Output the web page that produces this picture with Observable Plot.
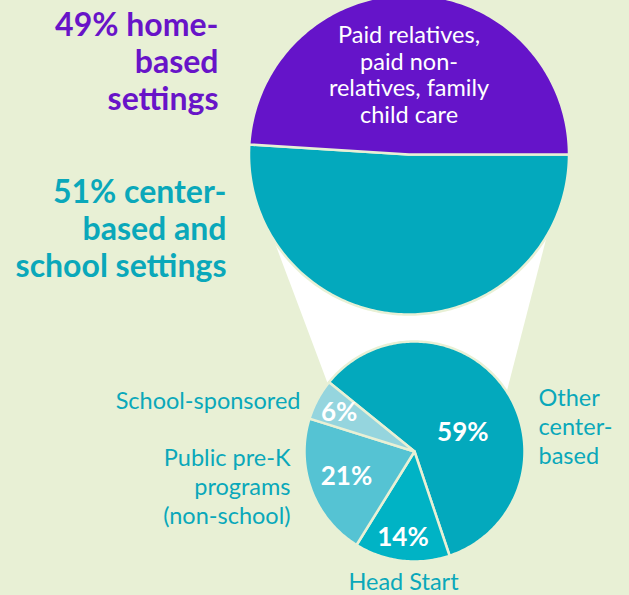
<!DOCTYPE html>
<html>
<head>
<meta charset="utf-8">
<script src="https://cdn.jsdelivr.net/npm/d3@7"></script>
<script src="https://cdn.jsdelivr.net/npm/@observablehq/plot@0.6"></script>
<style>
  html, body { margin: 0; padding: 0; background: #e8f0d5; }
  #chart svg { display: block; }
</style>
</head>
<body>
<div id="chart"></div>
<script>
// ---------- DATA ----------
const bigCategories = ["Center-based and school settings", "Home-based settings"];
const bigValues = [51, 49];
const bigColors = ["#03a9bd", "#6514c9"];
const bigHeadings = ["% center-\nbased and\nschool settings", "% home-\nbased\nsettings"];
const homeLabel = "Paid relatives,\npaid non-\nrelatives, family\nchild care";

const smallCategories = ["Other\ncenter-\nbased", "Head Start", "Public pre-K\nprograms\n(non-school)", "School-sponsored"];
const smallValues = [59, 14, 21, 6];
const smallColors = ["#03a9bd", "#00b3c5", "#55c3d3", "#95d5de"];

// ---------- LAYOUT ----------
const W = 629, H = 595;
const BG = "#e8f0d5";
const TEAL_TEXT = "#0aa8ba", PURPLE_TEXT = "#6814c8";
const big = {cx: 408.5, cy: 154, r: 160, start: Math.PI / 2};
const small = {cx: 414, cy: 451, r: 110, start: -51 * Math.PI / 180};
const pctRadius = [0.47, 0.79, 0.66, 0.77];
const pctAngleShift = [14, 1, 0, -1];
const connector = {bigLeft: 237.6, bigRight: 120.4, smallLeft: 308, smallRight: 57};
const outerLabelPos = [
  {x: 538, y: 425, anchor: "start"},
  {x: 403, y: 580, anchor: "middle"},
  {x: 290, y: 485.5, anchor: "end"},
  {x: 300, y: 399.5, anchor: "end"}
];

const rad = d => d * Math.PI / 180;
function pt(c, r, a) { return [c.cx + r * Math.sin(a), c.cy - r * Math.cos(a)]; }
function slicePoly(c, a0, a1, key, color) {
  const pts = [{x: c.cx, y: c.cy, key, color}];
  const n = Math.max(2, Math.ceil((a1 - a0) / rad(1)));
  for (let i = 0; i <= n; i++) {
    const [x, y] = pt(c, c.r, a0 + (a1 - a0) * i / n);
    pts.push({x, y, key, color});
  }
  return pts;
}

const bigArcs = d3.pie().sort(null).startAngle(big.start).endAngle(big.start + 2 * Math.PI)(bigValues);
const smallArcs = d3.pie().sort(null).startAngle(small.start).endAngle(small.start + 2 * Math.PI)(smallValues);

const bigPoly = bigArcs.flatMap((a, i) => slicePoly(big, a.startAngle, a.endAngle, "b" + i, bigColors[i]));
const smallPoly = smallArcs.flatMap((a, i) => slicePoly(small, a.startAngle, a.endAngle, "s" + i, smallColors[i]));

const conn = [
  pt(big, big.r, rad(connector.bigLeft)),
  pt(small, small.r, rad(connector.smallLeft)),
  pt(small, small.r, rad(connector.smallRight)),
  pt(big, big.r, rad(connector.bigRight))
].map(([x, y]) => ({x, y}));

const pctLabels = smallArcs.map((a, i) => {
  const mid = (a.startAngle + a.endAngle) / 2 + rad(pctAngleShift[i]);
  const [x, y] = pt(small, small.r * pctRadius[i], mid);
  return {x, y, text: `${smallValues[i]}%`};
});

const outerLabels = smallCategories.map((t, i) => ({...outerLabelPos[i], text: t}));

const headings = [
  {x: 218, y: 61, text: `${bigValues[1]}${bigHeadings[1]}`, color: PURPLE_TEXT},
  {x: 226, y: 227.5, text: `${bigValues[0]}${bigHeadings[0]}`, color: TEAL_TEXT}
];

const outerStyle = {x: "x", y: "y", text: "text", fill: TEAL_TEXT, fontSize: 23.5, lineHeight: 1.235, lineAnchor: "middle"};

const chart = Plot.plot({
  width: W, height: H, margin: 0,
  x: {domain: [0, W], range: [0, W], axis: null},
  y: {domain: [0, H], range: [0, H], axis: null},
  color: {type: "identity"},
  style: {background: "transparent", fontFamily: "Lato, sans-serif"},
  marks: [
    Plot.line(conn, {x: "x", y: "y", curve: "linear-closed", fill: "white", stroke: "none"}),
    Plot.line(bigPoly, {x: "x", y: "y", z: "key", fill: "color", curve: "linear-closed", stroke: BG, strokeWidth: 2.5, strokeLinejoin: "round"}),
    Plot.line(smallPoly, {x: "x", y: "y", z: "key", fill: "color", curve: "linear-closed", stroke: BG, strokeWidth: 2.5, strokeLinejoin: "round"}),
    Plot.text([{x: big.cx, y: 74, text: homeLabel}], {x: "x", y: "y", text: "text", fill: "white", fontSize: 23.5, lineHeight: 1.13, lineAnchor: "middle", textAnchor: "middle"}),
    Plot.text(pctLabels, {x: "x", y: "y", text: "text", fill: "white", fontSize: 26, fontWeight: "bold", lineAnchor: "middle", textAnchor: "middle"}),
    Plot.text(outerLabels.filter(d => d.anchor === "start"), {...outerStyle, textAnchor: "start"}),
    Plot.text(outerLabels.filter(d => d.anchor === "middle"), {...outerStyle, textAnchor: "middle"}),
    Plot.text(outerLabels.filter(d => d.anchor === "end"), {...outerStyle, textAnchor: "end"}),
    Plot.text(headings, {x: "x", y: "y", text: "text", fill: "color", fontSize: 32, fontWeight: "bold", lineHeight: 1.16, lineAnchor: "middle", textAnchor: "end"})
  ]
});
document.getElementById("chart").appendChild(chart);
</script>
</body>
</html>
